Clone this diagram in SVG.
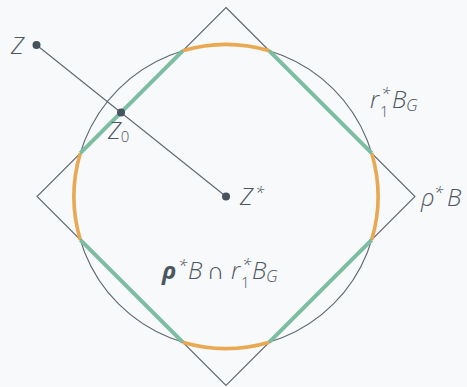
<svg xmlns="http://www.w3.org/2000/svg" width="467" height="387" viewBox="0 0 467 387">
<style>
.thin{fill:none;stroke:#5d6870;stroke-width:1.1}
.green{fill:none;stroke:#7dbea3;stroke-width:4;stroke-linecap:butt}
.orange{fill:none;stroke:#e9a852;stroke-width:3.6}
.dot{fill:#46525c}
text{font-family:"Open Sans","Liberation Sans",sans-serif;font-style:italic;font-weight:300;fill:#4b5660;font-size:24px}
.sup{font-size:17px}
.sub{font-size:15px;font-style:normal}
.g{font-size:17px}
</style>
<rect width="467" height="387" fill="#f8f9fa"/>
<g id="rhoB">
<polygon class="thin" points="226,7.5 415,196.5 226,385.5 37,196.5"/>
</g>
<g id="r1BG">
<circle class="thin" cx="226" cy="196.5" r="152"/>
</g>
<g id="intersection">
<path class="orange" d="M182.7,50.8 A152,152 0 0 1 269.3,50.8 M371.7,153.2 A152,152 0 0 1 371.7,239.8 M269.3,342.2 A152,152 0 0 1 182.7,342.2 M80.3,239.8 A152,152 0 0 1 80.3,153.2"/>
<path class="green" d="M182.7,50.8 L80.3,153.2 M269.3,50.8 L371.7,153.2 M371.7,239.8 L269.3,342.2 M182.7,342.2 L80.3,239.8"/>
</g>
<g id="connectors">
<line class="thin" x1="36.5" y1="45" x2="226" y2="196.5"/>
</g>
<g id="Z">
<circle class="dot" cx="36.5" cy="45" r="4"/>
<text x="11" y="54">Z</text>
</g>
<g id="Z0">
<circle class="dot" cx="121" cy="112.5" r="4"/>
<text x="108" y="139">Z<tspan class="sub" dy="3">0</tspan></text>
</g>
<g id="Zstar">
<circle class="dot" cx="226" cy="196.5" r="4"/>
<text x="240" y="205">Z<tspan class="sup" x="255" dy="-6">*</tspan></text>
</g>
<g id="label-rhoB">
<text x="421" y="206">ρ<tspan class="sup" x="434" dy="-7">*</tspan><tspan x="447" dy="7">B</tspan></text>
</g>
<g id="label-r1BG">
<text x="370" y="108">r<tspan class="sup" x="381" dy="-8">*</tspan><tspan class="sub" x="380" dy="17">1</tspan><tspan x="392" dy="-9">B</tspan><tspan class="g" x="406" dy="3">G</tspan></text>
</g>
<g id="label-intersection">
<text x="162" y="279"><tspan font-weight="700">ρ</tspan><tspan class="sup" x="178" dy="-7">*</tspan><tspan x="188" dy="7">B</tspan><tspan x="207" font-style="normal">∩</tspan><tspan x="231">r</tspan><tspan class="sup" x="242" dy="-8">*</tspan><tspan class="sub" x="241" dy="17">1</tspan><tspan x="252" dy="-9">B</tspan><tspan class="g" x="266" dy="3">G</tspan></text>
</g>
</svg>
